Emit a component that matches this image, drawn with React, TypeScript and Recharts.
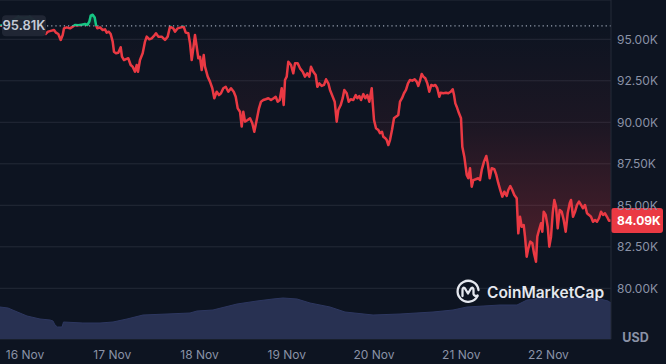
import React from 'react';
import { ComposedChart, Area, XAxis, YAxis, CartesianGrid, ReferenceLine } from 'recharts';

const dayLabels = ['16 Nov', '17 Nov', '18 Nov', '19 Nov', '20 Nov', '21 Nov', '22 Nov'];
const dayTicks = [0, 24, 48, 72, 96, 120, 144];
const priceTicks = [80000, 82500, 85000, 87500, 90000, 92500, 95000];

const priceHours = [
  -6.88, -5.5, -3.58, -1.93, -0.28, 1.38, 3.03, 4.68, 5.69, 6.33, 7.34, 7.98, 8.53, 9.16, 9.82, 10.37, 10.73, 11.47, 12.38, 13.12,
  13.75, 14.66, 15.6, 16.5, 17.14, 17.69, 18.07, 18.62, 19.17, 19.53, 19.89, 20.63, 21.37, 22.01, 22.47, 23.02, 23.57, 24.12, 24.48, 25.03,
  25.66, 26.32, 26.68, 27.23, 27.78, 28.41, 29.07, 29.62, 30.26, 30.72, 31.08, 31.63, 32.37, 33.01, 33.48, 34.19, 34.85, 35.48, 36.03, 36.67,
  37.6, 38.51, 39.25, 39.88, 40.79, 41.26, 42.0, 42.91, 43.65, 44.2, 44.92, 45.39, 45.85, 46.3, 46.76, 47.23, 47.67, 48.14, 48.6, 49.16,
  49.51, 50.26, 50.89, 51.52, 52.07, 52.73, 53.36, 53.91, 54.55, 55.21, 55.92, 56.66, 57.41, 57.96, 58.51, 59.14, 59.61, 60.05, 60.52, 61.26,
  61.89, 62.52, 63.07, 63.73, 64.36, 64.92, 65.55, 66.21, 66.93, 67.67, 68.41, 68.96, 69.51, 70.06, 70.61, 71.16, 71.52, 71.99, 72.43, 73.17,
  73.8, 74.27, 75.01, 75.65, 76.39, 77.02, 77.65, 78.2, 78.67, 79.3, 79.96, 80.41, 80.95, 81.61, 82.25, 82.8, 83.43, 83.9, 84.64, 85.19,
  85.74, 86.18, 86.84, 87.39, 87.83, 88.49, 89.04, 89.59, 90.31, 90.97, 91.41, 91.96, 92.43, 93.06, 93.61, 94.16, 94.71, 95.37, 95.65, 96.0,
  96.55, 97.18, 97.65, 98.2, 98.56, 99.11, 99.5, 99.94, 100.4, 100.95, 101.5, 102.05, 102.68, 103.15, 103.7, 104.25, 104.8, 105.35, 105.9, 106.54,
  107.18, 107.73, 108.19, 108.65, 109.12, 109.56, 110.11, 110.66, 111.21, 111.76, 112.31, 112.86, 113.41, 113.96, 114.35, 115.06, 115.81, 116.44, 117.1, 117.65,
  118.01, 118.37, 118.75, 119.38, 119.93, 120.29, 120.84, 121.5, 121.94, 122.41, 122.88, 123.32, 123.98, 124.69, 125.16, 125.63, 126.26, 126.89, 127.28, 127.83,
  128.38, 129.09, 129.64, 130.19, 130.74, 131.29, 131.84, 132.5, 132.94, 133.49, 134.04, 134.59, 135.25, 135.69, 136.16, 136.63, 137.18, 137.54, 138.0, 138.45,
  139.0, 139.55, 140.01, 140.56, 140.92, 141.39, 141.94, 142.3, 142.68, 143.23, 143.78, 144.22, 144.69, 145.16, 145.6, 146.07, 146.53, 147.08, 147.63, 148.18,
  148.73, 149.28, 149.83, 150.19, 150.74, 151.29, 151.84, 152.39, 152.94, 153.49, 154.04, 154.59, 155.14, 155.69, 156.24, 156.79, 157.34, 157.89, 158.44, 158.99,
  159.54, 160.09, 160.64, 161.19,
];

const priceValues = [
  95810, 95860, 96100, 96340, 96280, 96340, 96040, 95560, 95320, 95460, 95520, 95560, 95400, 95320, 94960, 95260, 95660, 95720, 95660, 95760,
  95860, 95840, 95880, 95920, 95860, 96060, 96420, 96480, 96320, 95860, 95660, 95720, 95560, 95600, 95400, 95460, 95320, 94860, 94250, 94160,
  94190, 94520, 93950, 93750, 93800, 93860, 93450, 93350, 93050, 93450, 93050, 93750, 94160, 94860, 95160, 95000, 95060, 95200, 95360, 95160,
  95160, 94960, 95160, 95760, 95660, 95460, 95660, 95720, 95760, 95400, 95360, 94760, 93750, 94460, 95260, 94550, 93860, 93950, 93150, 94050,
  93350, 92750, 92450, 92050, 91450, 91840, 91640, 91750, 92050, 92140, 91840, 92050, 91840, 91540, 90840, 90640, 89740, 90640, 90040, 90140,
  90240, 89940, 89430, 90140, 90840, 91240, 91340, 91390, 91450, 91340, 91450, 91540, 91240, 91340, 92050, 91040, 92550, 92750, 93650, 93450,
  92950, 93550, 93550, 93250, 93050, 92750, 92950, 92750, 93350, 93050, 92850, 92140, 92350, 92190, 92250, 92590, 92350, 91950, 91540, 91240,
  90040, 90740, 91040, 91450, 91950, 91750, 91240, 91390, 91340, 91640, 91450, 91580, 91340, 91700, 91450, 91640, 91240, 92050, 91140, 90140,
  89640, 89540, 89340, 89430, 89130, 89040, 88930, 88630, 88930, 89540, 90240, 90340, 90440, 91240, 91450, 91750, 91950, 92350, 92550, 92510,
  92590, 92450, 92190, 92510, 92910, 92750, 92650, 92350, 91840, 92250, 92190, 92250, 92050, 91540, 91780, 91750, 91780, 91750, 91840, 91990,
  91640, 91140, 90940, 90540, 90240, 88530, 87930, 86830, 86630, 87230, 86120, 86520, 86570, 86630, 86520, 87130, 87630, 87970, 87530, 86630,
  87230, 87170, 86830, 86330, 85920, 85520, 85820, 85560, 85920, 86160, 85920, 85620, 85420, 83310, 84310, 83710, 83810, 83110, 81900, 82410,
  82810, 82710, 82110, 81600, 83110, 83510, 83920, 83410, 84610, 84420, 83710, 82510, 83110, 84520, 85320, 84920, 83610, 84720, 84610, 84110,
  83410, 84520, 85120, 85320, 84310, 84610, 85020, 85220, 85020, 84820, 85020, 84520, 84420, 84310, 84010, 84110, 84010, 84220, 84610, 84420,
  84520, 84310, 84070, 84090,
];

const volHours = [
  -6.88, -4.68, -2.75, 0.55, 4.13, 6.9, 7.7, 8.25, 8.94, 10.18, 10.59, 15.95, 20.63, 24.21, 28.06, 32.46, 39.06, 45.39, 47.31, 51.71,
  58.32, 63.82, 68.22, 70.97, 74.82, 78.4, 83.9, 88.02, 95.73, 103.15, 112.23, 117.73, 121.58, 130.66, 135.33, 136.98, 138.08, 142.49, 151.84, 158.17,
  160.37, 161.19,
];
const volValues = [
  80, 77.5, 70, 57.5, 50, 47.5, 45, 35, 30, 30, 42.5, 40, 40, 42.5, 50, 60, 62.5, 65, 70, 72.5,
  87.5, 95, 100, 102.5, 100, 90, 80, 67.5, 60, 62.5, 67.5, 72.5, 80, 85, 85, 92.5, 97.5, 102.5, 102.5, 100,
  95, 90,
];

const baseline = 95810;
const lastPrice = priceValues[priceValues.length - 1];

const priceData = priceHours.map((h, i) => ({ h, p: priceValues[i] }));
const volData = volHours.map((h, i) => ({ h, v: volValues[i] }));

const maxP = Math.max(...priceValues);
const minP = Math.min(...priceValues);
const off = (maxP - baseline) / (maxP - minP);

const RED = '#ea3943';
const GREEN = '#16c784';
const BG = '#0d1421';
const GRID = '#242a38';
const TXT = '#8a92a6';
const FONT = 'Inter, "Noto Sans", sans-serif';

const fmtK = (v: number) => (v / 1000).toFixed(2) + 'K';

const BaseLabel = (props: any) => {
  const vb = props.viewBox || {};
  const x = vb.x ?? 0;
  const y = vb.y ?? 0;
  return (
    <g>
      <rect x={x + 2} y={y - 10.5} width={44} height={21} rx={4} fill="#212735" fillOpacity={0.97} />
      <text x={x + 24} y={y + 4.6} textAnchor="middle" fontSize={13} fontWeight={600} fill="#c5cad6" fontFamily={FONT}>
        {fmtK(baseline)}
      </text>
    </g>
  );
};

const LastLabel = (props: any) => {
  const vb = props.viewBox || {};
  const x = (vb.x ?? 0) + (vb.width ?? 0);
  const y = vb.y ?? 0;
  return (
    <g>
      <rect x={x} y={y - 12.5} width={52} height={25} rx={3} fill={RED} />
      <text x={x + 6} y={y + 4.3} textAnchor="start" fontSize={12} fontWeight={700} fill="#ffffff" fontFamily={FONT}>
        {fmtK(lastPrice)}
      </text>
    </g>
  );
};

export default function App() {
  return (
    <div style={{ position: 'fixed', left: 0, top: 0, width: 666, height: 364, background: BG, overflow: 'hidden' }}>
      <ComposedChart width={666} height={364} margin={{ top: 0, right: 0, left: 0, bottom: 0 }}>
        <defs>
          <linearGradient id="strokeG" x1="0" y1="0" x2="0" y2="1">
            <stop offset={0} stopColor={GREEN} />
            <stop offset={off} stopColor={GREEN} />
            <stop offset={off} stopColor={RED} />
            <stop offset={1} stopColor={RED} />
          </linearGradient>
          <linearGradient id="fillG" x1="0" y1="0" x2="0" y2="1">
            <stop offset={0} stopColor={GREEN} stopOpacity={0.25} />
            <stop offset={off} stopColor={GREEN} stopOpacity={0.04} />
            <stop offset={off} stopColor={RED} stopOpacity={0.0} />
            <stop offset={0.45} stopColor={RED} stopOpacity={0.07} />
            <stop offset={1} stopColor={RED} stopOpacity={0.3} />
          </linearGradient>
        </defs>
        <CartesianGrid yAxisId="p" vertical={false} stroke={GRID} />
        <XAxis
          dataKey="h"
          type="number"
          domain={[-6.877, 161.19]}
          allowDataOverflow
          ticks={dayTicks}
          interval={0}
          tickFormatter={(v: number) => dayLabels[dayTicks.indexOf(v)] ?? ''}
          axisLine={false}
          tickLine={false}
          tickSize={0}
          tickMargin={11}
          height={25}
          tick={{ fill: TXT, fontSize: 12, fontFamily: FONT }}
        />
        <YAxis
          yAxisId="p"
          orientation="right"
          type="number"
          domain={[76946, 97367]}
          allowDataOverflow
          ticks={priceTicks}
          interval={0}
          tickFormatter={fmtK}
          width={55}
          axisLine={{ stroke: GRID }}
          tickLine={false}
          tickSize={0}
          tickMargin={6}
          tick={{ fill: TXT, fontSize: 12, fontFamily: FONT }}
        />
        <YAxis yAxisId="vol" hide domain={[0, 847.5]} type="number" />
        <Area
          yAxisId="vol"
          data={volData}
          dataKey="v"
          type="linear"
          stroke="#2d3760"
          strokeWidth={1}
          fill="#283152"
          fillOpacity={1}
          isAnimationActive={false}
          dot={false}
          activeDot={false}
        />
        <Area
          yAxisId="p"
          data={priceData}
          dataKey="p"
          type="linear"
          baseValue={baseline}
          stroke="url(#strokeG)"
          strokeWidth={2.5}
          strokeLinejoin="round"
          fill="url(#fillG)"
          fillOpacity={1}
          isAnimationActive={false}
          dot={false}
          activeDot={false}
        />
        <ReferenceLine
          yAxisId="p"
          y={baseline}
          stroke="#9aa1b3"
          strokeDasharray="1.2 3"
          strokeWidth={1.2}
          label={<BaseLabel />}
        />
        <ReferenceLine yAxisId="p" y={lastPrice} stroke="none" label={<LastLabel />} />
      </ComposedChart>
      <svg width={666} height={364} style={{ position: 'absolute', left: 0, top: 0, pointerEvents: 'none' }}>
        <g transform="translate(468,291)" fill="none" stroke="#e4e7ee" strokeWidth={2.3} strokeLinecap="round" strokeLinejoin="round">
          <path d="M 9.5 5 A 10.5 10.5 0 1 1 10.5 -1" />
          <path d="M -5.5 5 L -5.5 -1 Q -5.5 -4.5 -3 -2.5 L 0 2.5 L 3 -2.5 Q 5.5 -4.5 5.5 -1 L 5.5 3 Q 6 5.5 9.5 4.5" />
        </g>
        <text x={487} y={297.5} fontSize={15.5} fontWeight={600} fill="#e4e7ee" fontFamily={FONT}>
          CoinMarketCap
        </text>
        <text x={635.5} y={342} textAnchor="middle" fontSize={12.5} fontWeight={700} fill={TXT} fontFamily={FONT}>
          USD
        </text>
      </svg>
    </div>
  );
}
